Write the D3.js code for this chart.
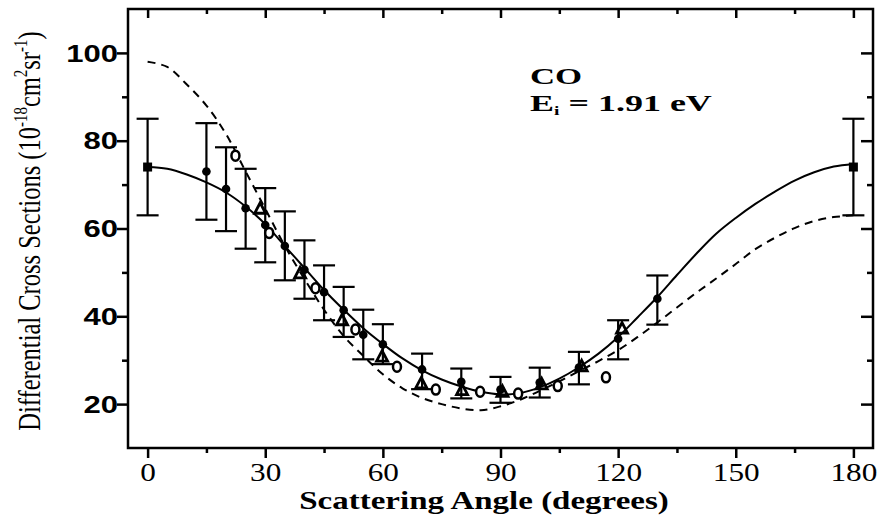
<!DOCTYPE html>
<html lang="en">
<head>
<meta charset="UTF-8">
<title>CO Differential Cross Sections</title>
<script src="https://d3js.org/d3.v7.min.js"></script>
<style>
    body{ margin:0; background:#fff; }
    svg{ display:block; }
</style>
</head>
<body>
<script>
    // angles in degrees, cross sections in 10^-18 cm^2 sr^-1
    const squareAngles = [0, 180]
    const squareValues = [74, 74]
    const squareLow = [63, 63]
    const squareHigh = [85, 85]

    const circleAngles = [15, 20, 25, 30, 35, 40, 45, 50, 55, 60, 70, 80, 90, 100, 110, 120, 130]
    const circleValues = [73, 69, 64.6, 60.8, 56, 50.6, 45.5, 41.4, 35.8, 33.6, 27.9, 25.1, 23.3, 24.9, 28.3, 34.9, 44]
    const circleLow = [62, 59.4, 55.4, 52.3, 48.2, 44, 39.1, 35.3, 30.2, 29.1, 23.4, 21.3, 20.3, 21.5, 24.5, 30.2, 38.1]
    const circleHigh = [84, 78.5, 73.6, 69.2, 63.9, 57.3, 51.6, 46.7, 41.5, 38.2, 31.5, 28.1, 26.2, 28.3, 31.9, 39.1, 49.3]

    const triangleAngles = [28.7, 38.9, 49.6, 59.8, 69.8, 80.2, 90.5, 100.5, 110.7, 121]
    const triangleValues = [64.5, 49.8, 39.1, 30.8, 24.7, 23.2, 22.8, 24.5, 28.6, 37.2]

    const openAngles = [22.4, 31, 42.8, 53, 63.6, 73.5, 84.8, 94.5, 104.6, 116.9]
    const openValues = [76.6, 59, 46.4, 37, 28.5, 23.3, 22.8, 22.4, 24.1, 26.1]

    const solidAngles = [0, 5, 10, 15, 20, 25, 30, 35, 40, 45, 50, 55, 60, 65, 70, 75, 80, 85, 90,
        95, 100, 105, 110, 115, 120, 125, 130, 135, 140, 145, 150, 155, 160, 165, 170, 175, 180]
    const solidValues = [74, 73.6, 72.3, 70.5, 68.2, 65, 61, 56, 51, 46, 41.5, 37.3, 33.7, 30.4, 27.7, 25.6, 24, 22.8, 22.2,
        22.5, 23.8, 25.8, 28.4, 31.5, 35.3, 39.8, 44.4, 49.4, 54.3, 58.8, 62.4, 65.6, 68.4, 70.9, 72.8, 74.1, 74.7]

    const dashedAngles = solidAngles
    const dashedValues = [98, 96.8, 92.8, 88, 81.5, 73, 64.5, 56, 48.5, 41.5, 35.5, 31, 26.8, 23.6, 21.4, 20, 19, 18.6, 19.5,
        21, 23, 25.2, 27.5, 29.8, 32.3, 35.3, 38.6, 42, 45.4, 48.6, 51.9, 55.3, 57.9, 60.1, 61.7, 62.6, 63]

    const xMinor = d3.range(0, 181, 15)
    const yMinor = d3.range(20, 101, 10)
    const xLabels = [0, 30, 60, 90, 120, 150, 180]
    const yLabels = [20, 40, 60, 80, 100]

    const svgSize = {width: 886, height: 519}
    const svg = d3.select("body").append("svg")
        .attr("width", svgSize.width)
        .attr("height", svgSize.height)

    const x = d3.scaleLinear().domain([-5, 185]).range([128, 873])
    const y = d3.scaleLinear().domain([10, 110]).range([448, 9])

    const serif = "'Liberation Serif', 'Times New Roman', serif"
    const sans = "'Liberation Sans', Arial, sans-serif"

    function styleTicks(g, isMajor, minorSize, horiz) {
        g.select(".domain").remove()
        g.selectAll(".tick line").attr("stroke-width", 2.5)
        g.selectAll(".tick").filter(d => !isMajor(d)).select("line")
            .attr(horiz ? "y2" : "x2", minorSize)
    }

    // bottom axis
    const bottomAxis = svg.append("g")
        .attr("transform", `translate(0,${y.range()[0]})`)
        .call(d3.axisBottom(x).tickValues(xMinor).tickSize(10)
            .tickFormat(d => xLabels.includes(d) ? d : ""))
    styleTicks(bottomAxis, d => xLabels.includes(d), 5, true)
    bottomAxis.selectAll(".tick text")
        .attr("y", 33).attr("dy", null)
        .attr("font-family", serif).attr("font-size", 25)
        .attr("transform", "scale(1.25,1)")

    // top axis, inward ticks
    const topAxis = svg.append("g")
        .attr("transform", `translate(0,${y.range()[1]})`)
        .call(d3.axisTop(x).tickValues(xMinor).tickSize(-9).tickFormat(""))
    styleTicks(topAxis, d => xLabels.includes(d), 5, true)

    // left axis
    const leftAxis = svg.append("g")
        .attr("transform", `translate(${x.range()[0]},0)`)
        .call(d3.axisLeft(y).tickValues(yMinor).tickSize(11)
            .tickFormat(d => yLabels.includes(d) ? d : ""))
    styleTicks(leftAxis, d => yLabels.includes(d), -6, false)
    leftAxis.selectAll(".tick text")
        .attr("x", -10 / 1.35).attr("dy", "0.36em")
        .attr("font-family", sans).attr("font-size", 23).attr("font-weight", "bold")
        .attr("transform", "scale(1.35,1)")

    // right axis, inward ticks
    const rightAxis = svg.append("g")
        .attr("transform", `translate(${x.range()[1]},0)`)
        .call(d3.axisRight(y).tickValues(yMinor).tickSize(-12).tickFormat(""))
    styleTicks(rightAxis, d => yLabels.includes(d), -6, false)

    svg.append("rect")
        .attr("x", x.range()[0]).attr("y", y.range()[1])
        .attr("width", x.range()[1] - x.range()[0])
        .attr("height", y.range()[0] - y.range()[1])
        .attr("fill", "none").attr("stroke", "black").attr("stroke-width", 2.5)

    // curves
    const line = d3.line().x(d => x(d[0])).y(d => y(d[1])).curve(d3.curveCatmullRom)
    svg.append("path")
        .attr("d", line(d3.zip(dashedAngles, dashedValues)))
        .attr("fill", "none").attr("stroke", "black").attr("stroke-width", 2)
        .attr("stroke-dasharray", "8,6")
    svg.append("path")
        .attr("d", line(d3.zip(solidAngles, solidValues)))
        .attr("fill", "none").attr("stroke", "black").attr("stroke-width", 2)

    // error bars
    function errorBars(angles, low, high) {
        const g = svg.append("g").attr("stroke", "black").attr("stroke-width", 2.2)
        angles.forEach((a, i) => {
            g.append("line").attr("x1", x(a)).attr("x2", x(a)).attr("y1", y(low[i])).attr("y2", y(high[i]))
            g.append("line").attr("x1", x(a) - 11).attr("x2", x(a) + 11).attr("y1", y(low[i])).attr("y2", y(low[i]))
            g.append("line").attr("x1", x(a) - 11).attr("x2", x(a) + 11).attr("y1", y(high[i])).attr("y2", y(high[i]))
        })
    }
    errorBars(circleAngles, circleLow, circleHigh)
    errorBars(squareAngles, squareLow, squareHigh)

    svg.append("g").selectAll("circle")
        .data(d3.zip(circleAngles, circleValues))
        .join("circle")
        .attr("cx", d => x(d[0])).attr("cy", d => y(d[1])).attr("r", 4.3)
        .attr("fill", "black")

    svg.append("g").selectAll("rect")
        .data(d3.zip(squareAngles, squareValues))
        .join("rect")
        .attr("x", d => x(d[0]) - 4.5).attr("y", d => y(d[1]) - 4.5)
        .attr("width", 9).attr("height", 9)
        .attr("fill", "black")

    svg.append("g").selectAll("path")
        .data(d3.zip(triangleAngles, triangleValues))
        .join("path")
        .attr("d", "M0,-6L5.5,4.5L-5.5,4.5Z")
        .attr("transform", d => `translate(${x(d[0])},${y(d[1])})`)
        .attr("fill", "none").attr("stroke", "black").attr("stroke-width", 2.8)

    svg.append("g").selectAll("ellipse")
        .data(d3.zip(openAngles, openValues))
        .join("ellipse")
        .attr("cx", d => x(d[0])).attr("cy", d => y(d[1]))
        .attr("rx", 4).attr("ry", 5)
        .attr("fill", "white").attr("stroke", "black").attr("stroke-width", 2.5)

    // labels
    svg.append("g")
        .attr("transform", "translate(484,509) scale(1.32,1)")
        .append("text")
        .attr("text-anchor", "middle")
        .attr("font-family", serif).attr("font-size", 25).attr("font-weight", "bold")
        .text("Scattering Angle (degrees)")

    const yTitle = svg.append("g")
        .attr("transform", "translate(40,231) rotate(-90) scale(1,1.3)")
        .append("text")
        .attr("text-anchor", "middle")
        .attr("font-family", serif).attr("font-size", 24.5)
    yTitle.append("tspan").text("Differential Cross Sections (10")
    yTitle.append("tspan").attr("font-size", 15).attr("dy", -10).text("-18")
    yTitle.append("tspan").attr("dy", 10).text("cm")
    yTitle.append("tspan").attr("font-size", 15).attr("dy", -10).text("2")
    yTitle.append("tspan").attr("dy", 10).text("sr")
    yTitle.append("tspan").attr("font-size", 15).attr("dy", -10).text("-1")
    yTitle.append("tspan").attr("dy", 10).text(")")

    svg.append("g")
        .attr("transform", "translate(530,84) scale(1.45,1)")
        .append("text")
        .attr("font-family", serif).attr("font-size", 24).attr("font-weight", "bold")
        .text("CO")

    const eText = svg.append("g")
        .attr("transform", "translate(530,111) scale(1.5,1)")
        .append("text")
        .attr("font-family", serif).attr("font-size", 24).attr("font-weight", "bold")
    eText.append("tspan").text("E")
    eText.append("tspan").attr("font-size", 13).attr("dy", 4).text("i")
    eText.append("tspan").attr("dy", -4).text(" = 1.91 eV")
</script>
</body>
</html>
